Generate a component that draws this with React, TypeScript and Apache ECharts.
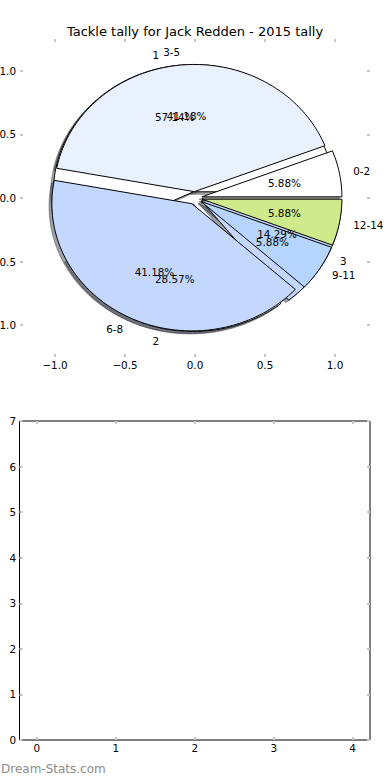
import React, { useEffect, useRef } from 'react';
import * as echarts from 'echarts';

// ---- data ----
const titleText = 'Tackle tally for Jack Redden - 2015 tally';
const bucketLabels = ['0-2', '3-5', '6-8', '9-11', '12-14'];
const bucketValues = [1, 7, 7, 1, 1];
const countLabels = ['1', '2', '3'];
const countValues = [4, 2, 1];
const wedgeColors = ['#ffffff', '#eaf1fe', '#c4d8ff', '#b5d5ff', '#cfea8b'];
const pieTicks = [-1, -0.5, 0, 0.5, 1];
const barXTicks = [0, 1, 2, 3, 4];
const watermark = 'Dream-Stats.com';

// ---- styling constants ----
const EXPLODE = 0.05;
const LABEL_DIST = 1.1;
const PCT_DIST = 0.6;
const SHADOW = -0.02;
const FONT = '"DejaVu Sans", sans-serif';
const FS = 10.4;

type Wedge = { t1: number; t2: number; cx: number; cy: number; mid: number; frac: number };

function wedges(values: number[]): Wedge[] {
  const total = values.reduce((a, b) => a + b, 0);
  let cum = 0;
  return values.map((v) => {
    const t1 = (360 * cum) / total;
    cum += v;
    const t2 = (360 * cum) / total;
    const mid = (((t1 + t2) / 2) * Math.PI) / 180;
    return { t1, t2, cx: EXPLODE * Math.cos(mid), cy: EXPLODE * Math.sin(mid), mid, frac: v / total };
  });
}

function wedgePoints(w: Wedge, api: any, dx: number, dy: number) {
  const pts = [api.coord([w.cx + dx, w.cy + dy])];
  const n = Math.max(2, Math.ceil(w.t2 - w.t1));
  for (let k = 0; k <= n; k++) {
    const t = ((w.t1 + ((w.t2 - w.t1) * k) / n) * Math.PI) / 180;
    pts.push(api.coord([w.cx + dx + Math.cos(t), w.cy + dy + Math.sin(t)]));
  }
  return pts;
}

function shade(hex: string, a: number) {
  const r = parseInt(hex.slice(1, 3), 16);
  const g = parseInt(hex.slice(3, 5), 16);
  const b = parseInt(hex.slice(5, 7), 16);
  return `rgba(${Math.round(r * 0.3)},${Math.round(g * 0.3)},${Math.round(b * 0.3)},${a})`;
}

function wedgeSeries(values: number[], shadow: boolean) {
  return {
    type: 'custom',
    coordinateSystem: 'cartesian2d',
    xAxisIndex: 0,
    yAxisIndex: 0,
    silent: true,
    data: values.map((v, i) => [0, 0, v, i]),
    encode: { x: 0, y: 1 },
    renderItem: (params: any, api: any) => {
      const i = params.dataIndex;
      const w = wedges(values)[i];
      const c = wedgeColors[i % wedgeColors.length];
      if (shadow) {
        return {
          type: 'polygon',
          shape: { points: wedgePoints(w, api, SHADOW, SHADOW) },
          style: { fill: shade(c, 0.5), stroke: shade(c, 0.5), lineWidth: 1 },
        };
      }
      return {
        type: 'polygon',
        shape: { points: wedgePoints(w, api, 0, 0) },
        style: { fill: c, stroke: '#000', lineWidth: 1, lineJoin: 'miter' },
      };
    },
  };
}

function labelSeries(values: number[], labels: string[]) {
  return {
    type: 'custom',
    coordinateSystem: 'cartesian2d',
    xAxisIndex: 0,
    yAxisIndex: 0,
    silent: true,
    data: values.map((v, i) => [0, 0, v, i]),
    encode: { x: 0, y: 1 },
    renderItem: (params: any, api: any) => {
      const i = params.dataIndex;
      const w = wedges(values)[i];
      const xt = w.cx + LABEL_DIST * Math.cos(w.mid);
      const yt = w.cy + LABEL_DIST * Math.sin(w.mid);
      const xp = w.cx + PCT_DIST * Math.cos(w.mid);
      const yp = w.cy + PCT_DIST * Math.sin(w.mid);
      const p = api.coord([xt, yt]);
      const q = api.coord([xp, yp]);
      return {
        type: 'group',
        children: [
          {
            type: 'text',
            x: p[0],
            y: p[1],
            style: {
              text: labels[i],
              align: xt > 0 ? 'left' : 'right',
              verticalAlign: 'middle',
              fontSize: FS,
              fontFamily: FONT,
              fill: '#000',
            },
          },
          {
            type: 'text',
            x: q[0],
            y: q[1],
            style: {
              text: (w.frac * 100).toFixed(2) + '%',
              align: 'center',
              verticalAlign: 'middle',
              fontSize: FS,
              fontFamily: FONT,
              fill: '#000',
            },
          },
        ],
      };
    },
  };
}

const tick = (values?: number[]) => ({
  show: true,
  inside: true,
  length: 3,
  lineStyle: { color: '#c4c4c4', width: 2 },
  ...(values ? { customValues: values } : {}),
});

const noLine = { show: false, onZero: false };

const pieFmt = (v: number) => (v < 0 ? '\u2212' : '') + Math.abs(v).toFixed(1);

export default function App() {
  const ref = useRef<HTMLDivElement>(null);
  useEffect(() => {
    document.body.style.margin = '0';
    const chart = echarts.init(ref.current!, null, { renderer: 'svg' });
    const labelStyle = { fontSize: FS, fontFamily: FONT, color: '#000' };
    chart.setOption({
      animation: false,
      backgroundColor: '#fff',
      title: {
        text: titleText,
        left: 'center',
        top: 20,
        textStyle: { fontSize: 13, fontWeight: 'normal', fontFamily: FONT, color: '#000' },
      },
      grid: [
        { left: 20, top: 39, width: 350, height: 318, outerBoundsMode: 'none', containLabel: false },
        {
          left: 19.5,
          top: 421,
          width: 350.5,
          height: 319,
          show: true,
          borderColor: '#000',
          borderWidth: 1,
          backgroundColor: 'transparent',
          outerBoundsMode: 'none',
          containLabel: false,
        },
      ],
      xAxis: [
        {
          gridIndex: 0, type: 'value', min: -1.25, max: 1.25, position: 'bottom',
          axisLine: noLine, splitLine: { show: false }, axisTick: tick(pieTicks),
          axisLabel: { customValues: pieTicks, formatter: pieFmt, margin: 3, ...labelStyle },
        },
        {
          gridIndex: 0, type: 'value', min: -1.25, max: 1.25, position: 'top',
          axisLine: noLine, splitLine: { show: false }, axisTick: tick(pieTicks),
          axisLabel: { show: false },
        },
        {
          gridIndex: 1, type: 'value', min: -0.22, max: 4.22, position: 'bottom',
          axisLine: noLine, splitLine: { show: false }, axisTick: tick(barXTicks),
          axisLabel: { customValues: barXTicks, formatter: (v: number) => String(v), margin: 3, ...labelStyle },
        },
        {
          gridIndex: 1, type: 'value', min: -0.22, max: 4.22, position: 'top',
          axisLine: noLine, splitLine: { show: false }, axisTick: tick(barXTicks),
          axisLabel: { show: false },
        },
      ],
      yAxis: [
        {
          gridIndex: 0, type: 'value', min: -1.25, max: 1.25, position: 'left',
          axisLine: noLine, splitLine: { show: false }, axisTick: tick(pieTicks),
          axisLabel: { customValues: pieTicks, formatter: pieFmt, margin: 4, ...labelStyle },
        },
        {
          gridIndex: 0, type: 'value', min: -1.25, max: 1.25, position: 'right',
          axisLine: noLine, splitLine: { show: false }, axisTick: tick(pieTicks),
          axisLabel: { show: false },
        },
        {
          gridIndex: 1, type: 'value', min: 0, max: 7, interval: 1, position: 'left',
          axisLine: noLine, splitLine: { show: false }, axisTick: tick(),
          axisLabel: { margin: 3.5, ...labelStyle },
        },
        {
          gridIndex: 1, type: 'value', min: 0, max: 7, interval: 1, position: 'right',
          axisLine: noLine, splitLine: { show: false }, axisTick: tick(),
          axisLabel: { show: false },
        },
      ],
      graphic: [
        {
          type: 'text',
          left: 1,
          top: 763,
          style: { text: watermark, fontSize: 12, fontFamily: FONT, fill: '#8c8c8c' },
        },
      ],
      series: [
        wedgeSeries(countValues, true),
        wedgeSeries(bucketValues, true),
        wedgeSeries(countValues, false),
        wedgeSeries(bucketValues, false),
        labelSeries(countValues, countLabels),
        labelSeries(bucketValues, bucketLabels),
      ],
    });
    return () => chart.dispose();
  }, []);
  return <div ref={ref} style={{ position: 'fixed', left: 0, top: 0, width: 390, height: 780 }} />;
}
